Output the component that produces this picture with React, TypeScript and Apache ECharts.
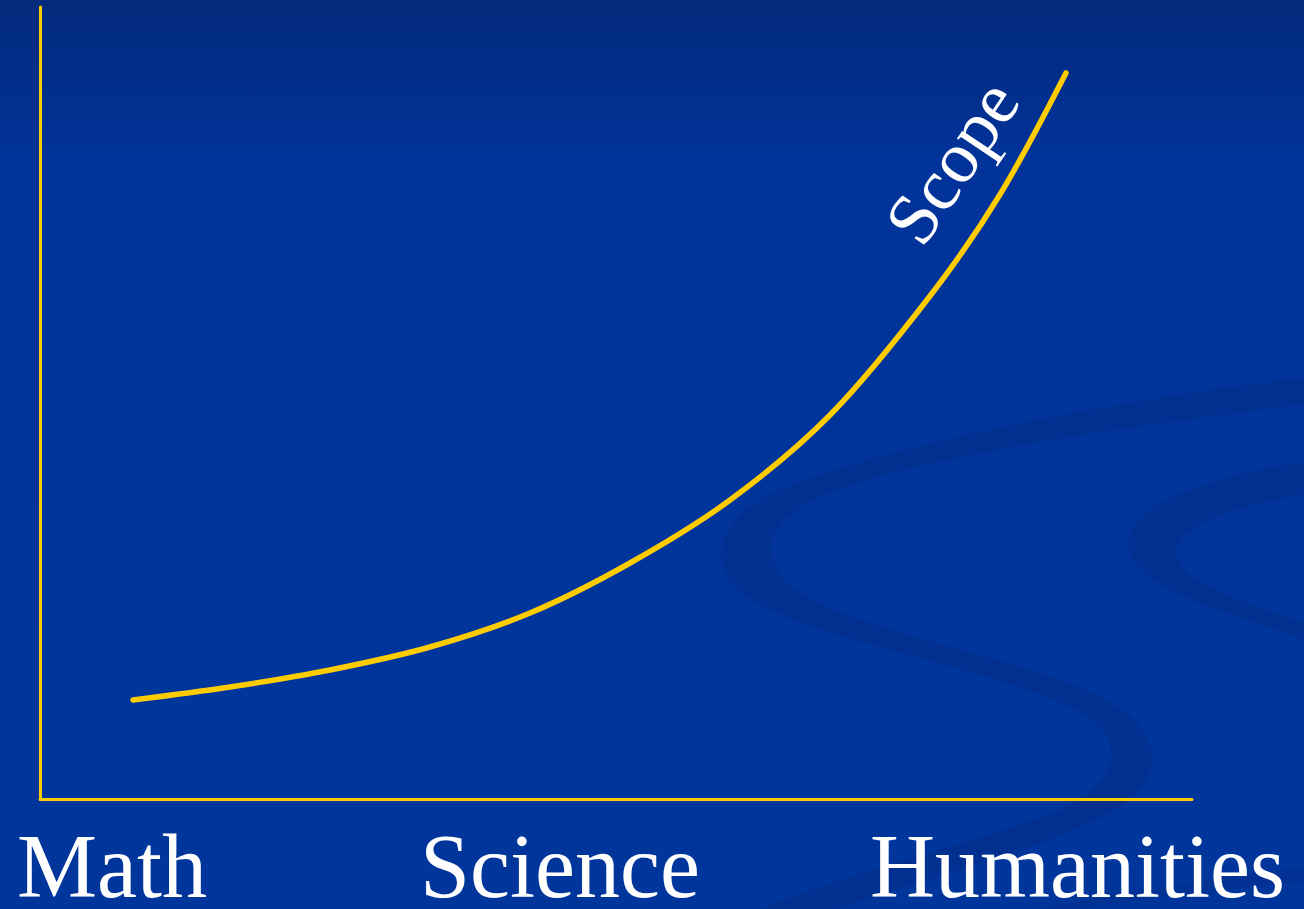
import React, { useEffect, useRef } from "react";
import * as echarts from "echarts";

// Curve (x: 0..100 along the horizontal axis, y: 0..100 along the vertical axis)
const scopeX = [8.07, 16.49, 25.17, 33.85, 42.53, 51.22, 59.9, 68.58, 77.26, 83.33, 89.06];
const scopeY = [12.5, 14.14, 16.29, 19.19, 23.48, 29.8, 37.75, 48.48, 63.51, 76.33, 91.67];
const categoryLabels = ["Math", "Science", "Humanities"];
const curveLabel = "Scope";

const swooshA =
  "M1304,378 C1150,395 900,440 780,490 C720,515 705,560 740,592 C800,640 1000,668 1080,712 C1135,745 1115,792 1040,818 C960,846 850,872 760,909 L835,909 C920,880 1035,852 1105,815 C1175,778 1165,728 1092,692 C1000,652 825,625 785,580 C755,545 772,515 832,492 C935,452 1150,424 1304,404 Z";
const swooshB =
  "M1304,462 C1220,475 1140,500 1130,535 C1120,568 1165,592 1225,612 L1304,640 L1304,622 C1235,600 1178,580 1176,553 C1175,524 1240,506 1304,494 Z";
const swooshC = "M1304,868 C1200,880 1100,895 1040,909 L1080,909 C1150,897 1230,888 1304,882 Z";

export default function App() {
  const ref = useRef<HTMLDivElement>(null);
  useEffect(() => {
    if (!ref.current) return;
    echarts.graphic.registerShape("swooshA", echarts.graphic.extendPath(swooshA, {}) as any);
    echarts.graphic.registerShape("swooshB", echarts.graphic.extendPath(swooshB, {}) as any);
    echarts.graphic.registerShape("swooshC", echarts.graphic.extendPath(swooshC, {}) as any);
    const chart = echarts.init(ref.current, undefined, { renderer: "svg" });
    const labelLefts = [17, 420, 870];
    chart.setOption({
      animation: false,
      backgroundColor: "transparent",
      grid: { left: 40, right: 112, top: 7, bottom: 110 },
      xAxis: {
        type: "value",
        min: 0,
        max: 100,
        axisLine: { show: true, onZero: false, lineStyle: { color: "#ffcc00", width: 3 } },
        axisTick: { show: false },
        axisLabel: { show: false },
        splitLine: { show: false },
      },
      yAxis: {
        type: "value",
        min: 0,
        max: 100,
        axisLine: { show: true, onZero: false, lineStyle: { color: "#ffcc00", width: 3 } },
        axisTick: { show: false },
        axisLabel: { show: false },
        splitLine: { show: false },
      },
      series: [
        {
          type: "line",
          data: scopeX.map((x, i) => [x, scopeY[i]]),
          smooth: 0.33,
          showSymbol: false,
          symbol: "none",
          lineStyle: { color: "#ffcc00", width: 5.5, cap: "round" },
          z: 5,
        },
      ],
      graphic: [
        {
          type: "rect",
          z: -10,
          silent: true,
          shape: { x: 0, y: 0, width: 1304, height: 909 },
          style: {
            fill: new echarts.graphic.LinearGradient(0, 0, 0, 1, [
              { offset: 0, color: "#032a7c" },
              { offset: 0.18, color: "#01339a" },
              { offset: 1, color: "#00369c" },
            ]),
          },
        },
        { type: "swooshA", z: -9, silent: true, x: 0, y: 0, style: { fill: "#01308f", opacity: 0.8 } },
        { type: "swooshB", z: -9, silent: true, x: 0, y: 0, style: { fill: "#01308f", opacity: 0.8 } },
        { type: "swooshC", z: -9, silent: true, x: 0, y: 0, style: { fill: "#01308f", opacity: 0.75 } },
        ...categoryLabels.map((t, i) => ({
          type: "text",
          z: 10,
          x: labelLefts[i],
          y: 866,
          style: {
            text: t,
            fill: "#ffffff",
            font: '90px "Liberation Serif"',
            align: "left",
            verticalAlign: "middle",
          },
        })),
        {
          type: "text",
          z: 10,
          x: 952,
          y: 162,
          rotation: (56 * Math.PI) / 180,
          style: {
            text: curveLabel,
            fill: "#ffffff",
            font: '73px "Liberation Serif"',
            align: "center",
            verticalAlign: "middle",
          },
        },
      ],
    });
    return () => chart.dispose();
  }, []);
  return (
    <div
      ref={ref}
      style={{ position: "absolute", left: 0, top: 0, width: 1304, height: 909 }}
    />
  );
}
